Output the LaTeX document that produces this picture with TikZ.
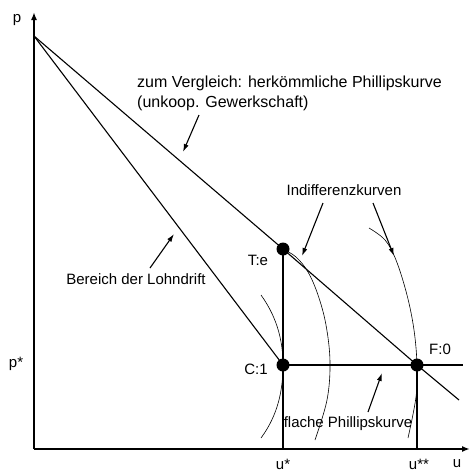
\documentclass[tikz,border=0pt]{standalone}
\usepackage{fontspec}
\setmainfont{Liberation Sans}
\usetikzlibrary{arrows.meta}
\begin{document}
\begin{tikzpicture}[x=1pt,y=-1pt,
  lbl/.style={inner sep=0pt,font=\fontsize{15}{19}\selectfont},
  biglbl/.style={inner sep=0pt,font=\fontsize{16}{20}\selectfont},
  axis/.style={line width=1.6pt,-{Latex[length=8pt,width=6pt]}},
  curve/.style={line width=1.1pt},
  indiff/.style={line width=0.6pt},
  pointer/.style={line width=1.1pt,-{Latex[length=8pt,width=5pt]}},
  dot/.style={circle,fill=black,inner sep=0pt,minimum size=13pt}]
\useasboundingbox (0,0) rectangle (470,472);
% coordinates
\coordinate (O) at (34,449);
\coordinate (top) at (34,12);
\coordinate (right) at (470,449);
\coordinate (A) at (34,36);
\coordinate (T) at (283,249);
\coordinate (C) at (283,365);
\coordinate (F) at (417,365);
\coordinate (Tfoot) at (283,449);
\coordinate (Ffoot) at (417,449);
\coordinate (lineEnd) at (459,400);
\coordinate (flatEnd) at (463,365);
% axes
\draw[axis] (O) -- (top);
\draw[axis] (O) -- (right);
% lines
\draw[curve] (A) -- (T) -- (F) -- (lineEnd);
\draw[curve] (A) -- (C);
\draw[curve] (C) -- (flatEnd);
\draw[curve] (T) -- (Tfoot);
\draw[curve] (F) -- (Ffoot);
% indifference curves
\draw[indiff] (261,295) .. controls (279,320) and (283,345) .. (C) .. controls (283,390) and (278,415) .. (261,438);
\draw[indiff] plot[smooth,tension=0.6] coordinates {(T) (296,257) (308,272) (318,295) (326,325) (330,362) (327,400) (315,440)};
\draw[indiff] plot[smooth,tension=0.6] coordinates {(369,228) (385,240) (396,260) (407,295) (414,330) (F) (416,397) (408,438)};
% dots
\node[dot] (Td) at (T) {};
\node[dot] (Cd) at (C) {};
\node[dot] (Fd) at (F) {};
% labels
\node[lbl] (pl) at (17,20) {p};
\node[lbl] (psl) at (16,364) {p*};
\node[lbl] (usl) at (283,464) {u*};
\node[lbl] (ussl) at (419,464) {u**};
\node[lbl] (ul) at (457,464) {u};
\node[lbl] (Tl) at (258,260) {T:e};
\node[lbl] (Cl) at (256,369) {C:1};
\node[lbl] (Fl) at (440,349) {F:0};
\node[lbl] (indl) at (344,190) {Indifferenzkurven};
\node[biglbl,align=left,anchor=west] (vgl) at (137,93) {zum Vergleich: herkömmliche Phillipskurve\\(unkoop. Gewerkschaft)};
\node[lbl] (lohn) at (136,279) {Bereich der Lohndrift};
\node[lbl] (flach) at (348,424) {flache Phillipskurve};
% pointer arrows
\coordinate (v1) at (199,115); \coordinate (v2) at (183,152);
\coordinate (l1) at (150,268); \coordinate (l2) at (174,234);
\coordinate (i1) at (323,203); \coordinate (i2) at (302,256);
\coordinate (j1) at (373,203); \coordinate (j2) at (394,256);
\coordinate (f1) at (368,412); \coordinate (f2) at (382,373);
\draw[pointer] (v1) -- (v2);
\draw[pointer] (l1) -- (l2);
\draw[pointer] (i1) -- (i2);
\draw[pointer] (j1) -- (j2);
\draw[pointer] (f1) -- (f2);
\end{tikzpicture}
\end{document}
